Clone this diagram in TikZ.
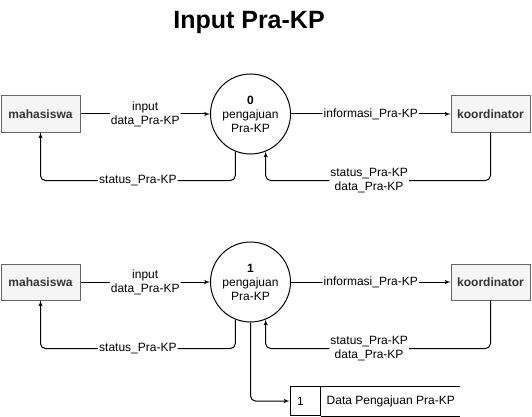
\documentclass[tikz,border=0pt]{standalone}
\usepackage{fontspec}
\setmainfont{Liberation Sans}
\usetikzlibrary{arrows,positioning}
\definecolor{boxfill}{HTML}{F5F5F5}
\definecolor{boxline}{HTML}{666666}
\definecolor{boxtext}{HTML}{333333}
\def\dfd{\fontsize{12}{14}\selectfont}

\begin{document}
\begin{tikzpicture}[x=1pt,y=1pt,>=latex',font=\dfd,node distance=210pt,
    ext/.style={draw=boxline,fill=boxfill,text=boxtext,font=\dfd\bfseries,
      minimum width=79pt,minimum height=36pt,line width=1pt},
    proc/.style={circle,draw,fill=white,minimum size=80pt,align=center,
      inner sep=0pt,line width=1pt},
    lbl/.style={fill=white,align=center,inner sep=1pt},
    flow/.style={->,line width=1pt,rounded corners=5pt},
    dsid/.style={draw,line width=1pt,minimum height=29pt,text width=16pt,
      inner xsep=7pt,align=left}]

    \useasboundingbox (0,0) rectangle (532,-417);

    \node[font=\fontsize{25}{30}\selectfont\bfseries,anchor=base] (T) at (249,-28.5) {Input Pra-KP};

    % level 0
    \draw (40.5,-114) node[ext] (MA) {mahasiswa};

    \node[proc,right of=MA] (PA) {\textbf{0}\\pengajuan\\Pra-KP};
    \draw[flow] (MA) to node[lbl] {input\\data\_Pra-KP} (PA);

    \node[ext,right of=PA,xshift=30pt] (KA) {koordinator};
    \draw[flow] (PA) to node[lbl] {informasi\_Pra-KP} (KA);

    \draw[flow] (PA.248) -- ++(0,-29) -| node[lbl,pos=.25] {status\_Pra-KP} (MA);
    \draw[flow] (KA.south) -- ++(0,-48) -| node[lbl,pos=.27] {status\_Pra-KP\\data\_Pra-KP} (PA.292);

    % level 1
    \draw (40.5,-282) node[ext] (MB) {mahasiswa};

    \node[proc,right of=MB] (PB) {\textbf{1}\\pengajuan\\Pra-KP};
    \draw[flow] (MB) to node[lbl] {input\\data\_Pra-KP} (PB);

    \node[ext,right of=PB,xshift=30pt] (KB) {koordinator};
    \draw[flow] (PB) to node[lbl] {informasi\_Pra-KP} (KB);

    \draw[flow] (PB.248) -- ++(0,-29) -| node[lbl,pos=.25] {status\_Pra-KP} (MB);
    \draw[flow] (KB.south) -- ++(0,-48) -| node[lbl,pos=.27] {status\_Pra-KP\\data\_Pra-KP} (PB.292);

    % data store
    \draw (305,-401) node[dsid] (DI) {1};
    \node[right=6pt of DI,inner sep=0pt] (DT) {Data Pengajuan Pra-KP};
    \draw[line width=1pt] (DI.north east) -- ++(139,0);
    \draw[line width=1pt] (DI.south east) -- ++(139,0);
    \draw[flow] (PB) |- (DI);

\end{tikzpicture}
\end{document}
